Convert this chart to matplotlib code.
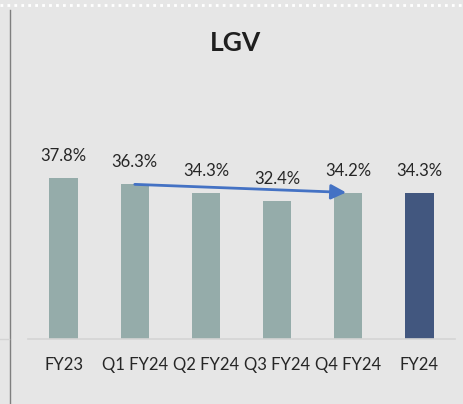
import matplotlib.pyplot as plt

categories = ["FY23", "Q1 FY24", "Q2 FY24", "Q3 FY24", "Q4 FY24", "FY24"]
values = [37.8, 36.3, 34.3, 32.4, 34.2, 34.3]
labels = ["37.8%", "36.3%", "34.3%", "32.4%", "34.2%", "34.3%"]
colors = ["#95acaa"] * 5 + ["#42577f"]

# trend arrow from Q1 FY24 to Q4 FY24
arrow_from = (1, 36.3)
arrow_to = (3.97, 34.4)

plt.rcParams['font.family'] = ['Lato', 'DejaVu Sans']

W, H = 463, 404
fig = plt.figure(figsize=(W / 100, H / 100), dpi=100)
fig.patch.set_facecolor("#e6e6e6")

ax = fig.add_axes([28 / W, 65 / H, 427 / W, 213 / H])
ax.set_facecolor("none")
x = range(len(categories))
ax.bar(x, values, width=0.4, color=colors, zorder=2)
ax.set_xlim(-0.5, 5.5)
ax.set_ylim(0, 50)

for i, v in enumerate(values):
    ax.annotate(labels[i], (i, v), xytext=(0, 16), textcoords="offset points",
                ha="center", va="center", fontsize=12, color="#262626")

ax.annotate("", xy=arrow_to, xytext=arrow_from,
            arrowprops=dict(arrowstyle="-|>,head_length=0.9,head_width=0.45",
                            color="#4472c4", lw=2, shrinkA=0, shrinkB=0),
            zorder=3)

ax.set_xticks(list(x))
ax.set_xticklabels(categories, fontsize=12, color="#262626")
ax.tick_params(axis="x", length=0, pad=13)
ax.set_yticks([])
for s in ["top", "right", "left"]:
    ax.spines[s].set_visible(False)
ax.spines["bottom"].set_color("#d4d4d4")
ax.spines["bottom"].set_linewidth(1.2)

fig.text(236 / W, 1 - 43 / H, "LGV", ha="center", va="center",
         fontsize=19, fontweight="bold", color="#1f1f1f")

# frame bits from the slide
fig.add_artist(plt.Line2D([9.5 / W, 9.5 / W], [0, 1 - 10 / H], color="#7f7f7f", lw=1))
fig.add_artist(plt.Line2D([0, 1], [1 - 5 / H, 1 - 5 / H], color="white", lw=2,
                          linestyle=(0, (1, 1.5))))
fig.add_artist(plt.Line2D([0, 9 / W], [65 / H, 65 / H], color="#d4d4d4", lw=1))

fig.savefig("out.png", dpi=100, facecolor=fig.get_facecolor())
